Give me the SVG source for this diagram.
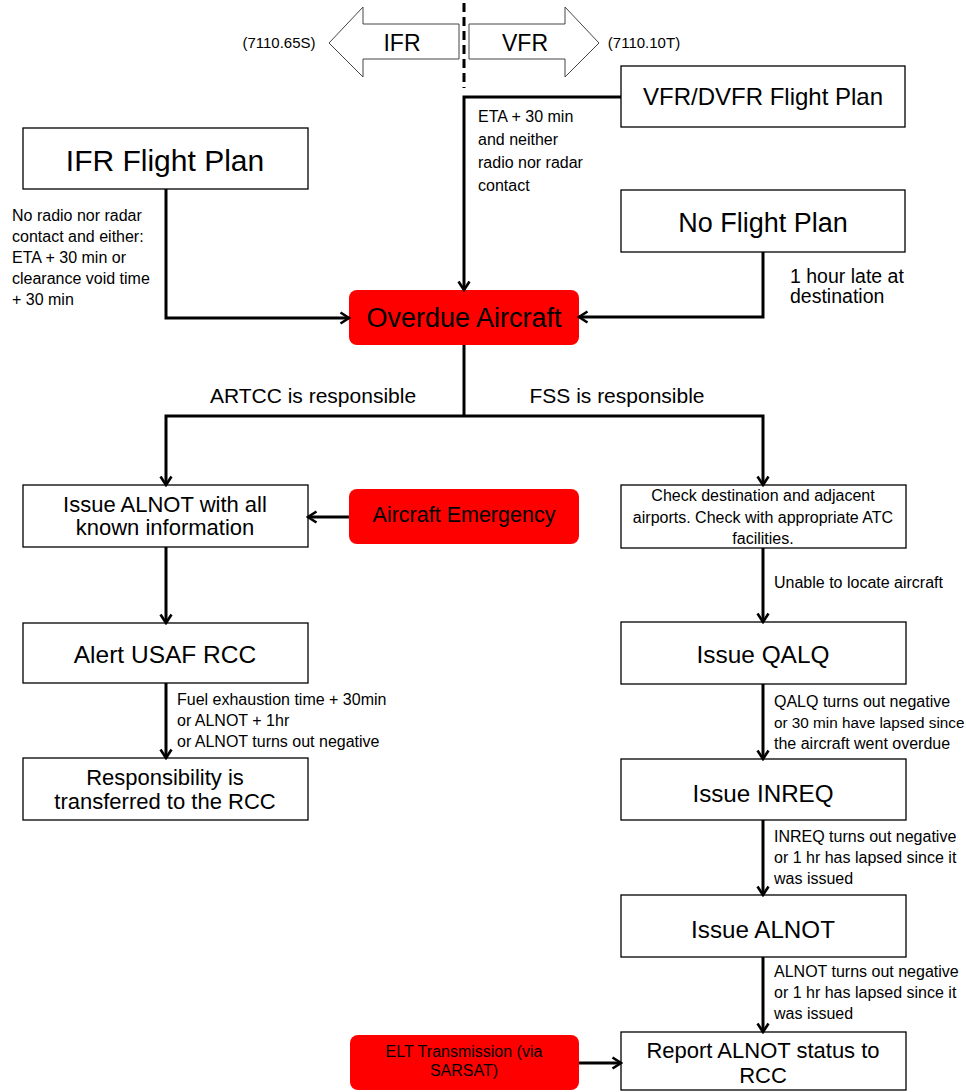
<svg xmlns="http://www.w3.org/2000/svg" width="966" height="1092" viewBox="0 0 966 1092">
<style>
text{font-family:"Liberation Sans",Arial,sans-serif;fill:#000}
.box{fill:#fff;stroke:#000;stroke-width:1.3}
.red{fill:#ff0000;stroke:none}
.big{text-anchor:middle}
.c{fill:none;stroke:#000;stroke-width:3}
.lbl{font-size:16px}
.dir{fill:#fff;stroke:#444;stroke-width:1}
</style>
<defs>
<marker id="ah" markerUnits="userSpaceOnUse" viewBox="0 0 12 14" markerWidth="12" markerHeight="14" refX="10" refY="7" orient="auto">
<path d="M1.5,1.5 L10,7 L1.5,12.5" fill="none" stroke="#000" stroke-width="2.6"/>
</marker>
</defs>
<rect width="966" height="1092" fill="#fff"/>

<g id="header">
<path class="dir" d="M459,24 L363,24 L363,7 L329,43 L363,77 L363,59 L459,59 Z"/>
<path class="dir" d="M469,24 L565,24 L565,7 L599,43 L565,77 L565,59 L469,59 Z"/>
<line x1="464" y1="3" x2="464" y2="88" stroke="#000" stroke-width="3" stroke-dasharray="9,5"/>
<text x="402" y="51" class="big" font-size="23">IFR</text>
<text x="525" y="51" class="big" font-size="23">VFR</text>
<text x="279" y="48" class="big" font-size="15">(7110.65S)</text>
<text x="644" y="48" class="big" font-size="15">(7110.10T)</text>
</g>

<g id="n-vfr"><rect class="box" x="621" y="66" width="284" height="61"/><text x="763" y="105" class="big" font-size="24">VFR/DVFR Flight Plan</text></g>
<g id="n-ifr"><rect class="box" x="23" y="128" width="285" height="61"/><text x="165" y="171" class="big" font-size="30">IFR Flight Plan</text></g>
<g id="n-nofp"><rect class="box" x="621" y="190" width="284" height="62"/><text x="763" y="232" class="big" font-size="27">No Flight Plan</text></g>
<g id="n-overdue"><rect class="red" x="349" y="290" width="230" height="55" rx="8"/><text x="464" y="327" class="big" font-size="27">Overdue Aircraft</text></g>
<g id="n-emergency"><rect class="red" x="349" y="489" width="230" height="55" rx="8"/><text x="464" y="522" class="big" font-size="21.5">Aircraft Emergency</text></g>
<g id="n-issue-alnot-all"><rect class="box" x="23" y="485" width="285" height="62"/><text x="165" y="512" class="big" font-size="22">Issue ALNOT with all</text><text x="165" y="535" class="big" font-size="22">known information</text></g>
<g id="n-alert"><rect class="box" x="23" y="623" width="285" height="60"/><text x="165" y="663" class="big" font-size="24.5">Alert USAF RCC</text></g>
<g id="n-resp"><rect class="box" x="23" y="758" width="285" height="62"/><text x="165" y="785" class="big" font-size="22">Responsibility is</text><text x="165" y="809" class="big" font-size="22">transferred to the RCC</text></g>
<g id="n-check"><rect class="box" x="621" y="485" width="285" height="63"/><text x="763" y="501" class="big" font-size="16">Check destination and adjacent</text><text x="763" y="523" class="big" font-size="16">airports. Check with appropriate ATC</text><text x="763" y="544" class="big" font-size="16">facilities.</text></g>
<g id="n-qalq"><rect class="box" x="621" y="622" width="285" height="62"/><text x="763" y="663" class="big" font-size="24.4">Issue QALQ</text></g>
<g id="n-inreq"><rect class="box" x="621" y="759" width="285" height="61"/><text x="763" y="802" class="big" font-size="24.2">Issue INREQ</text></g>
<g id="n-alnot"><rect class="box" x="621" y="895" width="285" height="62"/><text x="763" y="938" class="big" font-size="24.2">Issue ALNOT</text></g>
<g id="n-report"><rect class="box" x="621" y="1032" width="285" height="58"/><text x="763" y="1058" class="big" font-size="22">Report ALNOT status to</text><text x="763" y="1083" class="big" font-size="22">RCC</text></g>
<g id="n-elt"><rect class="red" x="350" y="1035" width="229" height="55" rx="8"/><text x="464" y="1057" class="big" font-size="16">ELT Transmission (via</text><text x="464" y="1076" class="big" font-size="16">SARSAT)</text></g>

<g id="connectors">
<path class="c" d="M621,97 L464,97 L464,290" marker-end="url(#ah)"/>
<path class="c" d="M166,189 L166,318 L349,318" marker-end="url(#ah)"/>
<path class="c" d="M763,252 L763,317 L579,317" marker-end="url(#ah)"/>
<path class="c" d="M464,345 L464,416"/>
<path class="c" d="M464,416 L166,416 L166,485" marker-end="url(#ah)"/>
<path class="c" d="M464,416 L763,416 L763,485" marker-end="url(#ah)"/>
<path class="c" d="M349,517 L308,517" marker-end="url(#ah)"/>
<path class="c" d="M166,547 L166,623" marker-end="url(#ah)"/>
<path class="c" d="M166,683 L166,758" marker-end="url(#ah)"/>
<path class="c" d="M763,548 L763,622" marker-end="url(#ah)"/>
<path class="c" d="M763,684 L763,759" marker-end="url(#ah)"/>
<path class="c" d="M763,820 L763,895" marker-end="url(#ah)"/>
<path class="c" d="M763,957 L763,1032" marker-end="url(#ah)"/>
<path class="c" d="M579,1063 L621,1063" marker-end="url(#ah)"/>
</g>

<g id="labels" class="lbl">
<text x="478" y="122">ETA + 30 min</text>
<text x="478" y="145">and neither</text>
<text x="478" y="168">radio nor radar</text>
<text x="478" y="191">contact</text>
<text x="12" y="221">No radio nor radar</text>
<text x="12" y="242">contact and either:</text>
<text x="12" y="263">ETA + 30 min or</text>
<text x="12" y="284">clearance void time</text>
<text x="12" y="305">+ 30 min</text>
<text x="790" y="283" font-size="19.5">1 hour late at</text>
<text x="790" y="303" font-size="19.5">destination</text>
<text x="313" y="403" class="big" font-size="21">ARTCC is responsible</text>
<text x="617" y="403" class="big" font-size="21">FSS is responsible</text>
<text x="177" y="705">Fuel exhaustion time + 30min</text>
<text x="177" y="726">or ALNOT + 1hr</text>
<text x="177" y="747">or ALNOT turns out negative</text>
<text x="774" y="588">Unable to locate aircraft</text>
<text x="774" y="707">QALQ turns out negative</text>
<text x="774" y="728" font-size="15.3">or 30 min have lapsed since</text>
<text x="774" y="749">the aircraft went overdue</text>
<text x="774" y="842">INREQ turns out negative</text>
<text x="774" y="863">or 1 hr has lapsed since it</text>
<text x="774" y="884">was issued</text>
<text x="774" y="977">ALNOT turns out negative</text>
<text x="774" y="998">or 1 hr has lapsed since it</text>
<text x="774" y="1019">was issued</text>
</g>
</svg>
